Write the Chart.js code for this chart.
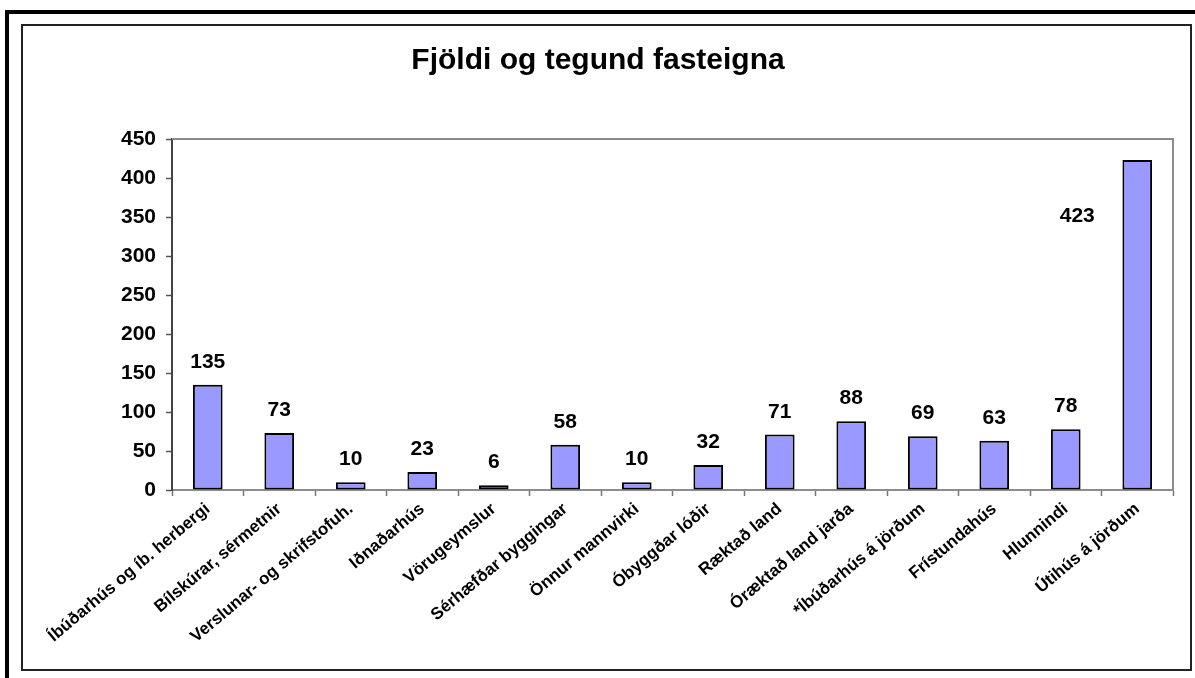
<!DOCTYPE html>
<html><head><meta charset="utf-8">
<script src="https://cdn.jsdelivr.net/npm/chart.js@4.4.0/dist/chart.umd.min.js"></script>
<style>
html,body{margin:0;padding:0;background:#fff;width:1195px;height:678px;overflow:hidden;position:relative}
#outer{position:absolute;left:5px;top:10px;width:1400px;height:900px;border-left:4px solid #000;border-top:4px solid #000;}
#inner{position:absolute;left:21px;top:24px;width:1171px;height:647px;border:2px solid #222;box-sizing:border-box;}
#c{position:absolute;left:23px;top:26px;}
</style></head>
<body>
<div id="outer"></div>
<div id="inner"></div>
<canvas id="c" width="1167" height="643"></canvas>
<script>
const titleText = 'Fjöldi og tegund fasteigna';
const categories = ['Íbúðarhús og íb. herbergi','Bílskúrar, sérmetnir','Verslunar- og skrifstofuh.','Iðnaðarhús','Vörugeymslur','Sérhæfðar byggingar','Önnur mannvirki','Óbyggðar lóðir','Ræktað land','Óræktað land jarða','*Íbúðarhús á jörðum','Frístundahús','Hlunnindi','Útihús á jörðum'];
const values = [135,73,10,23,6,58,10,32,71,88,69,63,78,423];
const yTicks = [0,50,100,150,200,250,300,350,400,450];

const FONT = '"Liberation Sans", Arial, sans-serif';

const plotBorder = {
  id:'plotBorder',
  beforeDatasetsDraw(chart){
    const {ctx, chartArea:a} = chart;
    ctx.save();
    ctx.strokeStyle = '#8c8c8c'; ctx.lineWidth = 2;
    ctx.beginPath();
    ctx.moveTo(a.left, a.top); ctx.lineTo(a.right, a.top); ctx.lineTo(a.right, a.bottom);
    ctx.stroke();
    ctx.restore();
  }
};

const dataLabels = {
  id:'dataLabels',
  afterDatasetsDraw(chart, args, opts){
    const ctx = chart.ctx;
    const meta = chart.getDatasetMeta(0);
    ctx.save();
    ctx.font = 'bold 21px ' + FONT;
    ctx.fillStyle = '#000'; ctx.textAlign = 'center'; ctx.textBaseline = 'alphabetic';
    meta.data.forEach((bar, i) => {
      const s = opts.shifts[i] || {dx:0, dy:0};
      ctx.fillText(String(values[i]), bar.x + s.dx, bar.y - opts.gap + s.dy);
    });
    ctx.restore();
  }
};

new Chart(document.getElementById('c'), {
  type:'bar',
  data:{
    labels:categories,
    datasets:[{
      data:values,
      backgroundColor:'#9999ff',
      borderColor:'#000',
      borderWidth:2,
      borderSkipped:false,
      barPercentage:0.415,
      categoryPercentage:1.0
    }]
  },
  options:{
    responsive:false,
    animation:false,
    devicePixelRatio:1,
    layout:{padding:{left:0,right:17,top:0,bottom:0}},
    plugins:{
      legend:{display:false},
      tooltip:{enabled:false},
      title:{display:true,text:titleText,color:'#000',font:{family:FONT,size:30,weight:'bold',lineHeight:1.2},padding:{top:17,bottom:60}},
      dataLabels:{gap:17, shifts:{13:{dx:-60,dy:79}}}
    },
    scales:{
      x:{
        offset:true,
        grid:{display:true,offset:true,drawOnChartArea:false,drawTicks:true,tickLength:6,tickColor:'#777',tickWidth:1.5},
        border:{display:true,color:'#8c8c8c',width:2},
        ticks:{autoSkip:false,minRotation:40,maxRotation:40,color:'#000',padding:3,font:{family:FONT,size:17,weight:'bold'}},
        afterFit(s){ s.height = 179; }
      },
      y:{
        min:0,max:450,
        afterBuildTicks(s){ s.ticks = yTicks.map(v=>({value:v})); },
        grid:{display:true,drawOnChartArea:false,drawTicks:true,tickLength:6,tickColor:'#555',tickWidth:1.5},
        border:{display:true,color:'#444',width:2},
        ticks:{color:'#000',padding:10,font:{family:FONT,size:21,weight:'bold'}},
        afterFit(s){ s.width = 149; }
      }
    }
  },
  plugins:[plotBorder, dataLabels]
});
</script>
</body></html>
